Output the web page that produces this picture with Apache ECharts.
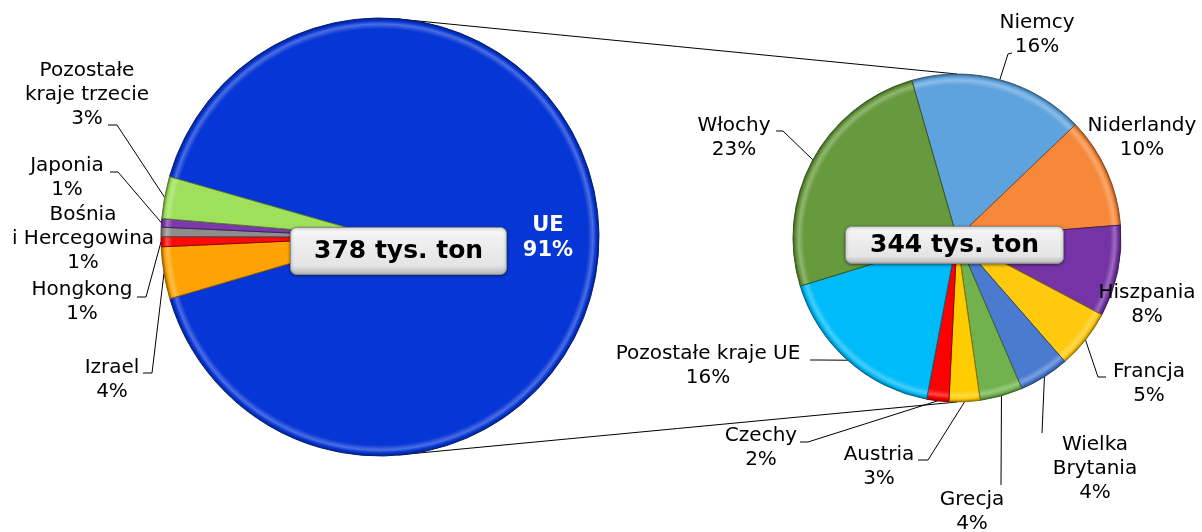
<!DOCTYPE html>
<html>
<head>
<meta charset="utf-8">
<script src="https://cdn.jsdelivr.net/npm/echarts@6/dist/echarts.min.js"></script>
<style>
    html, body { margin: 0; padding: 0; background: #fff; }
    #main { width: 1202px; height: 532px; }
</style>
</head>
<body>
<div id="main"></div>
<script>
// eksport wg kierunkow, tys. ton
let worldNames = ['UE', 'Izrael', 'Hongkong', 'Bośnia\ni Hercegowina', 'Japonia', 'Pozostałe\nkraje trzecie'];
let worldValues = [344, 14.5, 2.8, 2.6, 2.4, 11.7];
let worldColors = ['#0636d6', '#ffa304', '#ff0a0a', '#8d8d8d', '#7b3aa9', '#9ee05a'];

// struktura eksportu do UE (udzial liczony od calego eksportu)
let euNames = ['Niemcy', 'Niderlandy', 'Hiszpania', 'Francja', 'Wielka\nBrytania', 'Grecja', 'Austria', 'Czechy', 'Pozostałe kraje UE', 'Włochy'];
let euValues = [59.5, 37.5, 31, 20, 17, 14.5, 10.5, 7.5, 59.5, 87];
let euColors = ['#5fa3de', '#f7883a', '#7533a5', '#ffc90e', '#4a7bd0', '#72b24e', '#ffcc00', '#ff0000', '#00bbf9', '#669a3c'];

let unit = ' tys. ton';

// layout
let leftPie = { cx: 380, cy: 237, r: 219 };
let rightPie = { cx: 957, cy: 238, r: 164 };

let worldLabelPos = [
    { x: 548, y: 238, line: null },
    { x: 112, y: 380, line: [[152, 373], [143, 373]] },
    { x: 82, y: 302, line: [[146, 297], [137, 297]] },
    { x: 83, y: 239, line: null },
    { x: 67, y: 178, line: [[118, 172], [110, 172]] },
    { x: 87, y: 95, line: [[117, 125], [108, 125]] }
];
let euLabelPos = [
    { x: 1037, y: 35, line: [[1008, 54], [1012, 53]] },
    { x: 1142, y: 138, line: null },
    { x: 1147, y: 305, line: null },
    { x: 1149, y: 384, line: [[1098, 377], [1106, 377]] },
    { x: 1095, y: 469, line: [[1042, 433], [1042, 433]] },
    { x: 972, y: 512, line: [[1001, 485], [1001, 485]] },
    { x: 879, y: 467, line: [[928, 460], [918, 460]] },
    { x: 761, y: 448, line: [[808, 442], [800, 442]] },
    { x: 708, y: 366, line: [[818, 360], [810, 360]] },
    { x: 734, y: 138, line: [[783, 131], [776, 131]] }
];

let fontFamily = 'DejaVu Sans, Verdana, sans-serif';

function sum(arr) {
    return arr.reduce((a, b) => a + b, 0);
}
let exportTotal = sum(worldValues);

function mix(hex, target, t) {
    let a = parseInt(hex.slice(1), 16);
    let b = parseInt(target.slice(1), 16);
    let ch = [16, 8, 0].map((s) => {
        let x = (a >> s) & 255;
        let y = (b >> s) & 255;
        return Math.round(x + (y - x) * t);
    });
    return 'rgb(' + ch.join(',') + ')';
}

// excel-like bevel, only a thin band on the rim
function bevel(c, pie) {
    let px = (d) => 1 - d / pie.r;
    return new echarts.graphic.RadialGradient(pie.cx, pie.cy, pie.r, [
        { offset: 0, color: c },
        { offset: px(11), color: c },
        { offset: px(6), color: mix(c, '#ffffff', 0.28) },
        { offset: px(3), color: c },
        { offset: 1, color: mix(c, '#000000', 0.4) }
    ], true);
}

function buildData(names, values, colors, pos, pie) {
    return names.map((name, i) => {
        let item = {
            name: name,
            value: values[i],
            itemStyle: {
                color: bevel(colors[i], pie),
                borderColor: mix(colors[i], '#000000', 0.45),
                borderWidth: 1
            }
        };
        if (!pos[i].line) {
            item.labelLine = { show: false };
        }
        return item;
    });
}

function makeLayout(pos) {
    return function (params) {
        let p = pos[params.dataIndex];
        let out = { x: p.x, y: p.y, align: 'center', verticalAlign: 'middle' };
        if (p.line && params.labelLinePoints) {
            out.labelLinePoints = [params.labelLinePoints[0], p.line[0], p.line[1]];
        }
        return out;
    };
}

let worldData = buildData(worldNames, worldValues, worldColors, worldLabelPos, leftPie);
worldData[0].label = {
    position: 'inside',
    color: '#fff',
    fontWeight: 'bold',
    fontSize: 21,
    lineHeight: 25
};
let euData = buildData(euNames, euValues, euColors, euLabelPos, rightPie);

let labelStyle = {
    show: true,
    position: 'outside',
    fontFamily: fontFamily,
    fontSize: 20,
    lineHeight: 24,
    color: '#000',
    formatter: (p) => p.name + '\n' + Math.round(p.value / exportTotal * 100) + '%'
};
let lineStyle = {
    show: true,
    length: 10,
    length2: 8,
    lineStyle: { color: '#000', width: 1 }
};

let boxStyle = {
    backgroundColor: new echarts.graphic.LinearGradient(0, 0, 0, 1, [
        { offset: 0, color: '#ffffff' },
        { offset: 0.2, color: '#f1f1f1' },
        { offset: 0.8, color: '#e4e4e4' },
        { offset: 1, color: '#b4b4b4' }
    ]),
    borderColor: '#8c8c8c',
    borderWidth: 1,
    borderRadius: 6,
    shadowBlur: 3,
    shadowOffsetY: 1,
    shadowColor: 'rgba(0,0,0,0.45)',
    textStyle: {
        fontFamily: fontFamily,
        fontWeight: 'bold',
        fontSize: 25,
        lineHeight: 30,
        color: '#000'
    }
};

var myChart = echarts.init(document.getElementById('main'));
var option = {
    animation: false,
    title: [
        Object.assign({ text: Math.round(exportTotal) + unit, left: 290, top: 227, padding: [9, 24] }, boxStyle),
        Object.assign({ text: Math.round(sum(euValues)) + unit, left: 845, top: 226, padding: [4, 25] }, boxStyle)
    ],
    graphic: [
        {
            type: 'line',
            z: 1,
            shape: { x1: leftPie.cx + 18, y1: leftPie.cy - leftPie.r + 1, x2: rightPie.cx, y2: rightPie.cy - rightPie.r },
            style: { stroke: '#000', lineWidth: 1 }
        },
        {
            type: 'line',
            z: 1,
            shape: { x1: leftPie.cx + 18, y1: leftPie.cy + leftPie.r - 1, x2: rightPie.cx, y2: rightPie.cy + rightPie.r },
            style: { stroke: '#000', lineWidth: 1 }
        }
    ],
    series: [
        {
            name: 'Eksport',
            type: 'pie',
            center: [leftPie.cx, leftPie.cy],
            radius: leftPie.r,
            startAngle: 164,
            clockwise: true,
            avoidLabelOverlap: false,
            emphasis: { disabled: true },
            label: labelStyle,
            labelLine: lineStyle,
            labelLayout: makeLayout(worldLabelPos),
            data: worldData
        },
        {
            name: 'UE',
            type: 'pie',
            center: [rightPie.cx, rightPie.cy],
            radius: rightPie.r,
            startAngle: 106,
            clockwise: true,
            avoidLabelOverlap: false,
            emphasis: { disabled: true },
            label: labelStyle,
            labelLine: lineStyle,
            labelLayout: makeLayout(euLabelPos),
            data: euData
        }
    ]
};
myChart.setOption(option);
</script>
</body>
</html>
